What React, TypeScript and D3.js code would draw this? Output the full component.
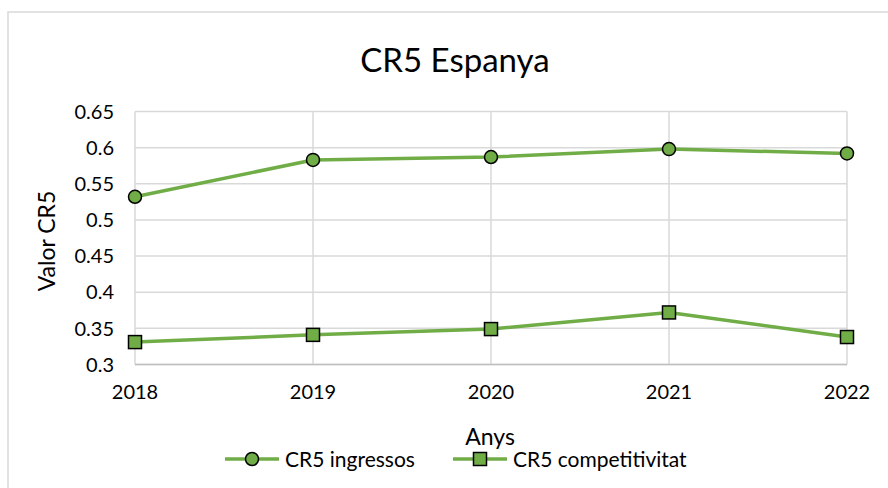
import React from "react";
import * as d3 from "d3";

const years = ["2018", "2019", "2020", "2021", "2022"];
const ingressos = [0.532, 0.583, 0.587, 0.598, 0.592];
const competitivitat = [0.331, 0.341, 0.349, 0.372, 0.338];
const yTicks = [0.3, 0.35, 0.4, 0.45, 0.5, 0.55, 0.6, 0.65];

const W = 888;
const H = 488;
const left = 135;
const right = 847;
const top = 111.5;
const bottom = 364.5;
const green = "#70ad47";
const grid = "#d9d9d9";
const font = "Lato, 'Open Sans', sans-serif";

export default function App() {
  const x = d3.scalePoint<string>().domain(years).range([left, right]);
  const y = d3.scaleLinear().domain([0.3, 0.65]).range([bottom, top]);
  const line = d3
    .line<number>()
    .x((_, i) => x(years[i]) as number)
    .y((d) => y(d));

  return (
    <svg
      width={W}
      height={H}
      style={{ position: "absolute", left: 0, top: 0, background: "#fff" }}
    >
      <rect x={0} y={0} width={W} height={H} fill="#fff" />
      <rect x={8} y={12} width={W + 10} height={H + 10} fill="#fff" stroke={grid} strokeWidth={1.5} />
      <text x={455} y={72} textAnchor="middle" fontFamily={font} fontSize={33} fill="#000">
        CR5 Espanya
      </text>
      {yTicks.map((t) => (
        <line key={"h" + t} x1={left} x2={right} y1={y(t)} y2={y(t)} stroke={grid} strokeWidth={1.5} />
      ))}
      {years.map((yr) => (
        <line key={"v" + yr} x1={x(yr)} x2={x(yr)} y1={top} y2={bottom} stroke={grid} strokeWidth={1.5} />
      ))}
      <line x1={left} x2={right} y1={bottom} y2={bottom} stroke="#bfbfbf" strokeWidth={1.5} />
      {yTicks.map((t) => (
        <text
          key={"yt" + t}
          x={114}
          y={y(t)}
          dy="0.36em"
          textAnchor="end"
          fontFamily={font}
          fontSize={20}
          fill="#000"
        >
          {String(t)}
        </text>
      ))}
      {years.map((yr) => (
        <text
          key={"xt" + yr}
          x={x(yr)}
          y={399}
          textAnchor="middle"
          fontFamily={font}
          fontSize={20}
          fill="#000"
        >
          {yr}
        </text>
      ))}
      <text
        transform={`translate(55,241) rotate(-90)`}
        textAnchor="middle"
        fontFamily={font}
        fontSize={23}
        fill="#000"
      >
        Valor CR5
      </text>
      <text x={490} y={445} textAnchor="middle" fontFamily={font} fontSize={23} fill="#000">
        Anys
      </text>

      <path d={line(ingressos) || ""} fill="none" stroke={green} strokeWidth={3.5} strokeLinejoin="round" />
      <path d={line(competitivitat) || ""} fill="none" stroke={green} strokeWidth={3.5} strokeLinejoin="round" />
      {ingressos.map((v, i) => (
        <circle key={"c" + i} cx={x(years[i])} cy={y(v)} r={6.5} fill={green} stroke="#000" strokeWidth={1.5} />
      ))}
      {competitivitat.map((v, i) => (
        <rect
          key={"s" + i}
          x={(x(years[i]) as number) - 6.5}
          y={y(v) - 6.5}
          width={13}
          height={13}
          fill={green}
          stroke="#000"
          strokeWidth={1.5}
        />
      ))}

      <g>
        <line x1={225} x2={279} y1={459} y2={459} stroke={green} strokeWidth={3.5} />
        <circle cx={252} cy={459} r={6.5} fill={green} stroke="#000" strokeWidth={1.5} />
        <text x={285} y={459} dy="0.36em" fontFamily={font} fontSize={21} fill="#000">
          CR5 ingressos
        </text>
        <line x1={453} x2={507} y1={459} y2={459} stroke={green} strokeWidth={3.5} />
        <rect x={473.5} y={452.5} width={13} height={13} fill={green} stroke="#000" strokeWidth={1.5} />
        <text x={513} y={459} dy="0.36em" fontFamily={font} fontSize={21} fill="#000">
          CR5 competitivitat
        </text>
      </g>
    </svg>
  );
}
